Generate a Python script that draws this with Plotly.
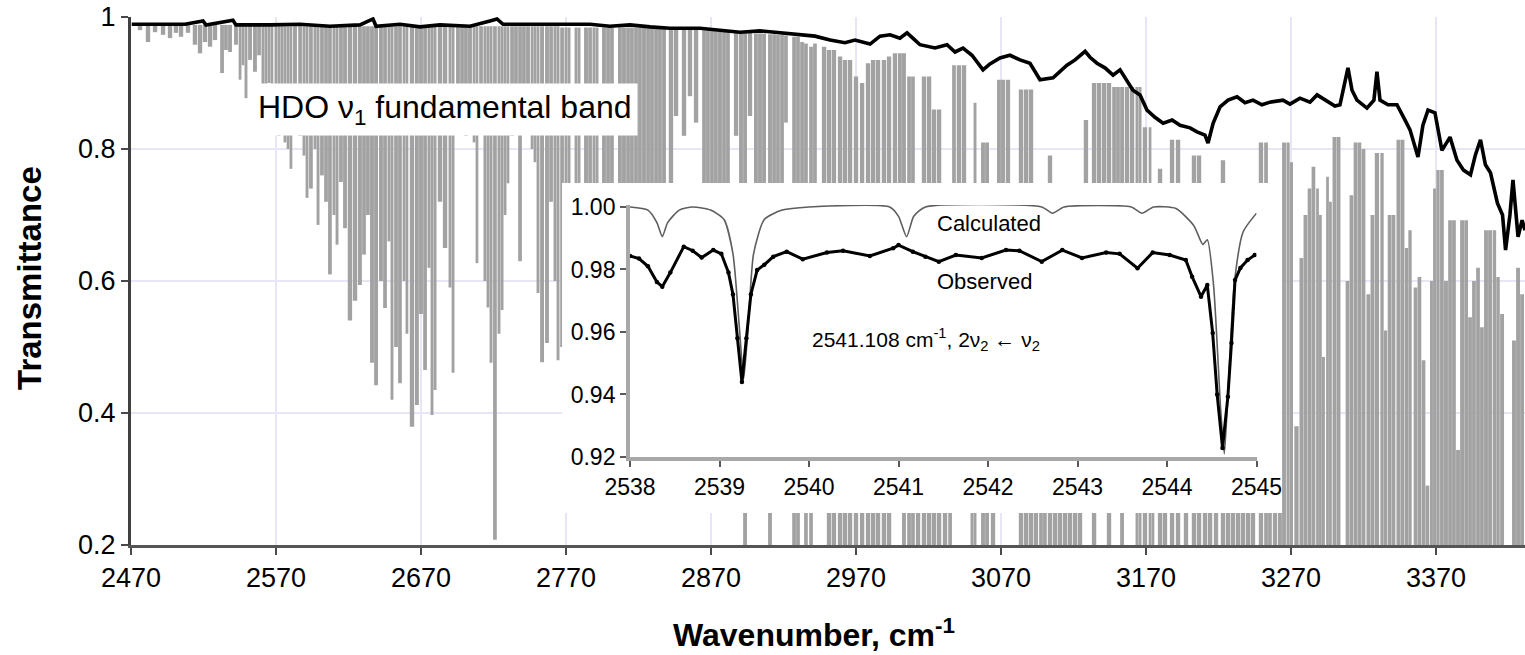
import plotly.graph_objects as go

FONT = "Liberation Sans, Arial, sans-serif"

# ---------------- main panel: calculated HDO line spectrum ----------------
# each absorption feature: centre (cm-1), local continuum level, line minimum
line_wn = [
    # 2470-2560
    2476.2, 2481.7, 2486.6, 2492.1, 2496.9, 2501.0, 2504.5, 2509.3, 2514.1, 2517.6,
    2521.0, 2524.5, 2527.9, 2532.8, 2535.5, 2538.3, 2542.4, 2545.2, 2547.2, 2549.3,
    2552.1, 2555.5, 2558.3,
    # 2560-2767
    2561.0, 2563.1, 2565.2, 2567.2, 2570.0, 2572.1, 2574.1, 2576.2, 2578.3, 2580.3,
    2583.1, 2586.6, 2589.3, 2591.4, 2594.1, 2596.9, 2599.0, 2601.7, 2604.5, 2607.2,
    2610.0, 2612.1, 2614.8, 2617.6, 2621.0, 2624.5, 2627.9, 2630.7, 2633.4, 2636.2,
    2639.0, 2642.4, 2645.2, 2647.9, 2650.0, 2652.8, 2655.5, 2658.3, 2660.3, 2663.8,
    2667.2, 2670.0, 2672.8, 2675.5, 2677.6, 2679.7, 2683.1, 2686.6, 2690.0, 2692.1,
    2695.5, 2698.3, 2701.0, 2703.8, 2706.6, 2708.6, 2711.4, 2714.1, 2716.2, 2718.3,
    2721.0, 2723.8, 2725.9, 2728.0, 2730.0, 2732.8, 2735.5, 2738.3, 2741.0, 2743.8,
    2746.6, 2748.6, 2750.7, 2753.5, 2756.9, 2759.7, 2762.4, 2764.5,
    # 2767-2933
    2767.3, 2770.0, 2772.1, 2776.9, 2779.0, 2783.8, 2786.6, 2789.3, 2791.4, 2796.2,
    2799.0, 2801.7, 2807.2, 2810.0, 2812.8, 2815.5, 2818.3, 2821.0, 2823.8, 2826.6,
    2829.3, 2832.1, 2834.8, 2837.6, 2842.4, 2845.9, 2851.4, 2855.5, 2859.7, 2865.2,
    2867.9, 2870.7, 2873.4, 2876.2, 2879.0, 2881.7, 2887.3, 2890.7, 2893.5, 2896.9,
    2901.0, 2903.8, 2906.6, 2910.7, 2913.5, 2916.2, 2919.0, 2921.7, 2927.3, 2930.0,
    2932.8,
    # 2935-3250
    2935.5, 2939.0, 2941.7, 2948.0, 2951.4, 2954.8, 2959.0, 2962.4, 2965.9, 2970.0,
    2974.2, 2978.3, 2981.8, 2985.2, 2989.3, 2992.8, 2996.9, 3000.3, 3003.1, 3006.6,
    3009.3, 3012.8, 3016.9, 3020.4, 3023.8, 3027.3, 3031.4, 3034.9, 3037.6, 3041.0,
    3044.5, 3050.0, 3052.1, 3057.6, 3060.4, 3064.5, 3068.6, 3071.4, 3074.8, 3078.3,
    3083.8, 3087.3, 3090.7, 3094.1, 3097.6, 3100.3, 3103.8, 3107.3, 3110.7, 3114.2,
    3117.6, 3121.1, 3124.5, 3128.6, 3134.2, 3137.6, 3141.1, 3144.5, 3148.0, 3150.7,
    3153.5, 3156.9, 3160.4, 3163.8, 3165.9, 3169.3, 3172.8, 3174.8, 3179.7, 3183.1,
    3188.0, 3192.1, 3197.6, 3203.1, 3206.6, 3210.7, 3214.2, 3218.3, 3223.1, 3226.6,
    3230.0, 3233.5, 3236.9, 3240.4, 3243.8, 3249.3,
    # 3250-3431
    3252.8, 3255.5, 3259.0, 3262.4, 3265.2, 3268.0, 3270.3, 3273.8, 3277.2, 3280.0,
    3282.8, 3285.5, 3288.3, 3290.3, 3292.4, 3295.2, 3297.2, 3300.0, 3302.8, 3309.0,
    3311.7, 3314.5, 3317.2, 3320.0, 3323.4, 3326.2, 3329.3, 3332.8, 3335.2, 3338.0,
    3340.7, 3344.1, 3346.9, 3349.7, 3352.1, 3355.9, 3358.6, 3361.4, 3364.1, 3366.9,
    3369.0, 3371.4, 3374.1, 3376.9, 3379.7, 3382.4, 3385.2, 3388.0, 3390.8, 3393.5,
    3396.2, 3399.0, 3401.7, 3404.5, 3407.3, 3410.3, 3412.8, 3415.6, 3423.8, 3426.6,
    3429.4,
]

line_top = (
    [0.988] * 23
    + [0.986] * 78
    + [0.984] * 26 + [0.982] * 3 + [0.980] * 4 + [0.978] * 3 + [0.976] * 4
    + [0.975] * 3 + [0.974] * 2 + [0.973] * 2 + [0.972, 0.970, 0.970, 0.962]
    + [
        0.960, 0.955, 0.960, 0.955, 0.950, 0.950, 0.940, 0.935, 0.935, 0.910,
        0.900, 0.930, 0.935, 0.935, 0.935, 0.940, 0.945, 0.945, 0.945, 0.910,
        0.910, 0.600, 0.910, 0.910, 0.860, 0.860, 0.600, 0.600, 0.927, 0.927,
        0.927, 0.600, 0.870, 0.810, 0.810, 0.600, 0.905, 0.905, 0.905, 0.700,
        0.890, 0.890, 0.890, 0.700, 0.650, 0.650, 0.790, 0.600, 0.600, 0.600,
        0.600, 0.600, 0.600, 0.844, 0.900, 0.900, 0.900, 0.900, 0.894, 0.894,
        0.894, 0.894, 0.894, 0.894, 0.894, 0.833, 0.833, 0.600, 0.770, 0.600,
        0.814, 0.814, 0.600, 0.790, 0.790, 0.600, 0.600, 0.600, 0.783, 0.550,
        0.550, 0.550, 0.550, 0.550, 0.550, 0.810,
    ]
    + [
        0.810, 0.700, 0.650, 0.700, 0.810, 0.810, 0.780, 0.380, 0.635, 0.700,
        0.740, 0.773, 0.740, 0.700, 0.485, 0.758, 0.720, 0.818, 0.818, 0.600,
        0.730, 0.810, 0.810, 0.800, 0.580, 0.700, 0.794, 0.794, 0.525, 0.700,
        0.700, 0.814, 0.814, 0.650, 0.677, 0.590, 0.606, 0.480, 0.290, 0.600,
        0.740, 0.768, 0.768, 0.600, 0.692, 0.692, 0.344, 0.692, 0.692, 0.545,
        0.600, 0.620, 0.530, 0.677, 0.677, 0.677, 0.606, 0.550, 0.510, 0.620,
        0.580,
    ]
)

line_min = (
    [
        0.980, 0.962, 0.977, 0.973, 0.968, 0.976, 0.970, 0.976, 0.958, 0.945,
        0.962, 0.955, 0.965, 0.915, 0.950, 0.947, 0.958, 0.905, 0.927, 0.877,
        0.935, 0.917, 0.942,
    ]
    + [
        0.88, 0.85, 0.90, 0.83, 0.87, 0.82, 0.86, 0.81, 0.80, 0.77,
        0.84, 0.82, 0.79, 0.726, 0.74, 0.80, 0.685, 0.76, 0.72, 0.61,
        0.70, 0.655, 0.75, 0.68, 0.54, 0.57, 0.594, 0.64, 0.70, 0.476,
        0.442, 0.60, 0.559, 0.66, 0.42, 0.50, 0.445, 0.60, 0.52, 0.379,
        0.412, 0.55, 0.465, 0.62, 0.397, 0.435, 0.72, 0.65, 0.59, 0.461,
        0.83, 0.86, 0.82, 0.85, 0.81, 0.627, 0.83, 0.60, 0.56, 0.476,
        0.208, 0.52, 0.556, 0.70, 0.748, 0.82, 0.84, 0.63, 0.83, 0.85,
        0.80, 0.78, 0.582, 0.477, 0.506, 0.72, 0.60, 0.48,
    ]
    + [
        0.50, 0.45, 0.55, 0.50, 0.60, 0.45, 0.55, 0.50, 0.60, 0.45,
        0.50, 0.55, 0.50, 0.45, 0.60, 0.50, 0.55, 0.45, 0.50, 0.60,
        0.50, 0.45, 0.55, 0.50, 0.60, 0.85, 0.82, 0.88, 0.84, 0.50,
        0.55, 0.45, 0.50, 0.60, 0.50, 0.55, 0.82, 0.50, 0.10, 0.85,
        0.50, 0.55, 0.45, 0.10, 0.50, 0.60, 0.50, 0.84, 0.10, 0.10,
        0.50,
    ]
    + [
        0.10, 0.10, 0.50, 0.50, 0.10, 0.10, 0.10, 0.10, 0.10, 0.10,
        0.10, 0.10, 0.10, 0.10, 0.10, 0.10, 0.30, 0.30, 0.10, 0.10,
        0.10, 0.10, 0.10, 0.10, 0.10, 0.10, 0.10, 0.10, 0.30, 0.30,
        0.30, 0.10, 0.10, 0.10, 0.10, 0.10, 0.30, 0.30, 0.30, 0.35,
        0.10, 0.10, 0.10, 0.10, 0.10, 0.10, 0.10, 0.10, 0.10, 0.10,
        0.10, 0.10, 0.10, 0.30, 0.10, 0.30, 0.30, 0.10, 0.30, 0.30,
        0.10, 0.30, 0.30, 0.10, 0.10, 0.10, 0.10, 0.10, 0.10, 0.10,
        0.10, 0.10, 0.10, 0.10, 0.10, 0.10, 0.10, 0.10, 0.10, 0.10,
        0.10, 0.10, 0.10, 0.10, 0.10, 0.10,
    ]
    + [0.10] * 61
)

# ---------------- main panel: observed transmittance ----------------
obs_wn = [
    2470.5, 2473.4, 2490.0, 2507.2, 2519.7, 2521.7, 2540.3, 2542.4, 2565.9, 2586.6,
    2607.2, 2627.9, 2636.9, 2639.0, 2655.5, 2669.3, 2683.1, 2703.8, 2717.6, 2722.4,
    2726.6, 2745.2, 2765.9, 2786.6, 2800.3, 2814.1, 2828.0, 2841.7, 2862.4, 2876.2,
    2890.0, 2903.8, 2917.6, 2931.4, 2941.7, 2952.1, 2962.4, 2969.3, 2979.7, 2986.6,
    2993.5, 3000.3, 3005.2, 3010.7, 3014.1, 3024.5, 3032.8, 3038.3, 3043.8, 3050.0,
    3057.6, 3062.4, 3069.3, 3076.2, 3083.1, 3090.0, 3096.9, 3105.9, 3110.7, 3115.5,
    3121.1, 3128.0, 3131.4, 3136.2, 3141.7, 3147.3, 3152.1, 3161.0, 3165.9, 3170.7,
    3176.2, 3181.8, 3188.0, 3193.5, 3200.4, 3205.2, 3210.7, 3212.8, 3216.3, 3221.1,
    3226.6, 3232.8, 3238.3, 3243.8, 3250.0, 3255.5, 3264.5, 3269.3, 3276.2, 3283.1,
    3288.0, 3293.5, 3300.3, 3303.8, 3309.3, 3312.1, 3315.5, 3322.4, 3327.2, 3329.3,
    3331.4, 3336.9, 3343.1, 3348.6, 3352.1, 3357.6, 3361.0, 3364.5, 3369.3, 3374.1,
    3379.7, 3384.5, 3389.0, 3393.8, 3397.2, 3400.7, 3404.1, 3407.6, 3412.4, 3415.9,
    3418.0, 3421.0, 3423.1, 3426.6, 3429.4, 3431.4,
]
obs_T = [
    0.989, 0.989, 0.988, 0.989, 0.994, 0.988, 0.995, 0.988, 0.988, 0.989,
    0.986, 0.988, 0.997, 0.986, 0.989, 0.985, 0.988, 0.986, 0.994, 0.997,
    0.989, 0.989, 0.988, 0.989, 0.986, 0.988, 0.985, 0.983, 0.983, 0.980,
    0.977, 0.979, 0.976, 0.973, 0.971, 0.965, 0.961, 0.965, 0.959, 0.971,
    0.973, 0.968, 0.976, 0.965, 0.958, 0.953, 0.958, 0.947, 0.953, 0.942,
    0.920, 0.929, 0.938, 0.942, 0.935, 0.930, 0.905, 0.908, 0.917, 0.927,
    0.935, 0.948, 0.939, 0.930, 0.923, 0.912, 0.920, 0.889, 0.882, 0.859,
    0.848, 0.839, 0.844, 0.836, 0.832, 0.826, 0.821, 0.809, 0.839, 0.864,
    0.874, 0.879, 0.870, 0.874, 0.867, 0.871, 0.874, 0.868, 0.877, 0.871,
    0.882, 0.874, 0.865, 0.867, 0.923, 0.889, 0.874, 0.862, 0.874, 0.917,
    0.874, 0.867, 0.867, 0.844, 0.829, 0.788, 0.836, 0.859, 0.855, 0.798,
    0.818, 0.783, 0.768, 0.761, 0.791, 0.814, 0.776, 0.764, 0.718, 0.700,
    0.647, 0.700, 0.753, 0.667, 0.692, 0.677,
]

# ---------------- inset: 2538-2545 cm-1 detail ----------------
calc_wn = [
    2538.0, 2538.2, 2538.3, 2538.36, 2538.42, 2538.55, 2538.7, 2538.9, 2539.05, 2539.15,
    2539.22, 2539.27, 2539.32, 2539.38, 2539.5, 2539.7, 2540.0, 2540.9, 2541.0, 2541.09,
    2541.17, 2541.3, 2542.6, 2542.72, 2542.85, 2543.6, 2543.72, 2543.85, 2544.1, 2544.3,
    2544.4, 2544.45, 2544.52, 2544.6, 2544.64, 2544.68, 2544.75, 2544.85, 2545.0,
]
calc_T = [
    1.000, 0.999, 0.995, 0.9905, 0.995, 0.999, 1.000, 0.999, 0.996, 0.985,
    0.962, 0.945, 0.962, 0.985, 0.996, 0.999, 1.000, 1.000, 0.997, 0.9905,
    0.997, 1.000, 1.000, 0.998, 1.000, 1.000, 0.998, 1.000, 0.9995, 0.994,
    0.988, 0.9895, 0.975, 0.935, 0.921, 0.940, 0.975, 0.992, 0.998,
]
meas_wn = [
    2538.0, 2538.1, 2538.2, 2538.3, 2538.36, 2538.45, 2538.6, 2538.7, 2538.8, 2538.93,
    2539.02, 2539.1, 2539.15, 2539.2, 2539.25, 2539.3, 2539.35, 2539.42, 2539.5, 2539.6,
    2539.75, 2539.93, 2540.2, 2540.38, 2540.68, 2540.94, 2541.0, 2541.16, 2541.3, 2541.45,
    2541.64, 2541.93, 2542.2, 2542.35, 2542.6, 2542.83, 2543.05, 2543.32, 2543.47, 2543.67,
    2543.84, 2544.03, 2544.21, 2544.28, 2544.38, 2544.45, 2544.51, 2544.56, 2544.62, 2544.68,
    2544.72, 2544.76, 2544.82, 2544.9, 2544.98,
]
meas_T = [
    0.9843, 0.9835, 0.981, 0.976, 0.9745, 0.979, 0.9873, 0.986, 0.9838, 0.9862,
    0.985, 0.979, 0.972, 0.958, 0.944, 0.958, 0.972, 0.9798, 0.9815, 0.9841,
    0.9857, 0.9833, 0.9854, 0.986, 0.9843, 0.9868, 0.9878, 0.9857, 0.9841, 0.9825,
    0.9846, 0.9837, 0.9862, 0.986, 0.9825, 0.9862, 0.9837, 0.9854, 0.985, 0.9804,
    0.9854, 0.9846, 0.983, 0.9777, 0.9713, 0.975, 0.9597, 0.940, 0.9229, 0.9393,
    0.9565, 0.9766, 0.9805, 0.983, 0.9846,
]

main_xticks = [2470, 2570, 2670, 2770, 2870, 2970, 3070, 3170, 3270, 3370]
main_yticks = [0.2, 0.4, 0.6, 0.8, 1.0]
main_ytext = ["0.2", "0.4", "0.6", "0.8", "1"]
inset_xticks = [2538, 2539, 2540, 2541, 2542, 2543, 2544, 2545]
inset_yticks = [0.92, 0.94, 0.96, 0.98, 1.00]

assert len(line_wn) == len(line_top) == len(line_min), (len(line_wn), len(line_top), len(line_min))
assert len(obs_wn) == len(obs_T)
assert len(calc_wn) == len(calc_T) and len(meas_wn) == len(meas_T)

X_RANGE = [2470, 3431.4]
Y_RANGE = [0.2, 1.0]
INSET_XRANGE = [2538, 2545]
INSET_YRANGE = [0.92, 1.0006]   # a hair above 1.00 so the flat baseline is not clipped

# inset placement (paper fractions)
INSET_X = [0.3580, 0.8074]
INSET_Y = [0.1667, 0.6438]
PANEL = dict(x0=0.3092, x1=0.8257, y0=0.0606, y1=0.6856)  # white panel behind the inset


def px(f):
    return X_RANGE[0] + f * (X_RANGE[1] - X_RANGE[0])


def py(f):
    return Y_RANGE[0] + f * (Y_RANGE[1] - Y_RANGE[0])


# stick width follows the local line spacing so crowded regions merge into a band
def stick_widths(centres):
    out = []
    for i, c in enumerate(centres):
        gaps = []
        if i > 0:
            gaps.append(c - centres[i - 1])
        if i < len(centres) - 1:
            gaps.append(centres[i + 1] - c)
        out.append(min(3.0, max(1.6, 0.95 * min(gaps))))
    return out


fig = go.Figure()

fig.add_trace(go.Bar(
    x=line_wn,
    base=line_min,
    y=[t - b for t, b in zip(line_top, line_min)],
    width=stick_widths(line_wn),
    marker=dict(color="#a2a2a2", line=dict(width=0)),
    hoverinfo="skip",
    xaxis="x", yaxis="y",
))

fig.add_trace(go.Scatter(
    x=obs_wn, y=obs_T, mode="lines",
    line=dict(color="black", width=3.6),
    hoverinfo="skip", xaxis="x", yaxis="y",
))

fig.add_trace(go.Scatter(
    x=[px(PANEL["x0"]), px(PANEL["x1"]), px(PANEL["x1"]), px(PANEL["x0"]), px(PANEL["x0"])],
    y=[py(PANEL["y0"]), py(PANEL["y0"]), py(PANEL["y1"]), py(PANEL["y1"]), py(PANEL["y0"])],
    mode="lines", fill="toself", fillcolor="white",
    line=dict(width=0, color="white"),
    hoverinfo="skip", xaxis="x", yaxis="y",
))

fig.add_trace(go.Scatter(
    x=calc_wn, y=calc_T, mode="lines",
    line=dict(color="#5e5e5e", width=1.6, shape="spline", smoothing=0.6),
    hoverinfo="skip", xaxis="x2", yaxis="y2",
))

fig.add_trace(go.Scatter(
    x=meas_wn, y=meas_T, mode="lines+markers",
    line=dict(color="black", width=3),
    marker=dict(color="black", size=4.5),
    hoverinfo="skip", xaxis="x2", yaxis="y2",
))

axis_font = dict(family=FONT, size=27, color="black")
inset_font = dict(family=FONT, size=23, color="black")

fig.update_layout(
    width=1525, height=655,
    margin=dict(l=131, r=0, t=17, b=110, autoexpand=False),
    paper_bgcolor="white", plot_bgcolor="white",
    showlegend=False, barmode="overlay",
    font=dict(family=FONT, color="black"),
    xaxis=dict(
        range=X_RANGE, tickvals=main_xticks, ticks="outside", ticklen=7, tickwidth=2,
        tickcolor="#4a4a4a", showline=True, linecolor="#555555", linewidth=3,
        showgrid=True, gridcolor="#e6e6f7", gridwidth=2, zeroline=False,
        tickfont=axis_font, automargin=False,
    ),
    yaxis=dict(
        range=Y_RANGE, tickvals=main_yticks, ticktext=main_ytext, ticks="outside",
        ticklen=7, tickwidth=2, tickcolor="#4a4a4a", showline=True,
        linecolor="#404040", linewidth=3, showgrid=True, gridcolor="#e6e6f7",
        gridwidth=2, zeroline=False, tickfont=axis_font, automargin=False,
    ),
    xaxis2=dict(
        domain=INSET_X, anchor="y2", range=INSET_XRANGE, tickvals=inset_xticks,
        ticks="outside", ticklen=6, tickwidth=2, tickcolor="#5a5a5a",
        showline=True, linecolor="#a8a8a8", linewidth=4, showgrid=False,
        zeroline=False, tickfont=inset_font, automargin=False,
    ),
    yaxis2=dict(
        domain=INSET_Y, anchor="x2", range=INSET_YRANGE, tickvals=inset_yticks,
        tickformat=".2f", ticks="outside", ticklen=6, tickwidth=2,
        tickcolor="#5a5a5a", showline=True, linecolor="#a8a8a8", linewidth=4,
        showgrid=False, zeroline=False, tickfont=inset_font, automargin=False,
    ),
    annotations=[
        dict(text="HDO ν<sub>1</sub> fundamental band", xref="paper", yref="paper",
             x=0.2253, y=0.8239, xanchor="center", yanchor="middle", showarrow=False,
             bgcolor="white", borderpad=5, font=dict(family=FONT, size=32, color="black")),
        dict(text="<b>Transmittance</b>", xref="paper", yref="paper", x=-0.0725, y=0.5057,
             xanchor="center", yanchor="middle", textangle=-90, showarrow=False,
             font=dict(family=FONT, size=33, color="black")),
        dict(text="<b>Wavenumber, cm<sup>-1</sup></b>", xref="paper", yref="paper",
             x=0.49, y=-0.1667, xanchor="center", yanchor="middle", showarrow=False,
             font=dict(family=FONT, size=32, color="black")),
        dict(text="Calculated", xref="paper", yref="paper", x=0.5768, y=0.6098,
             xanchor="left", yanchor="middle", showarrow=False,
             font=dict(family=FONT, size=22, color="black")),
        dict(text="Observed", xref="paper", yref="paper", x=0.5768, y=0.50,
             xanchor="left", yanchor="middle", showarrow=False,
             font=dict(family=FONT, size=22, color="black")),
        dict(text="2541.108 cm<sup>-1</sup>, 2ν<sub>2</sub> ← ν<sub>2</sub>",
             xref="paper", yref="paper", x=0.4871, y=0.3883,
             xanchor="left", yanchor="middle", showarrow=False,
             font=dict(family=FONT, size=21, color="black")),
    ],
)

fig.write_html("out.html")
